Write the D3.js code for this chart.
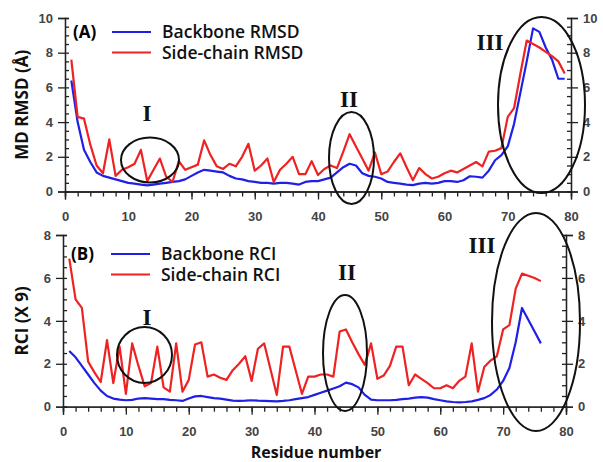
<!DOCTYPE html>
<html>
<head>
<meta charset="utf-8">
<script src="https://cdn.jsdelivr.net/npm/d3@7"></script>
<style>
  body { margin: 0; background: #fff; }
  svg { font-family: "Open Sans", sans-serif; }
  .tick text { fill: #444; font-weight: 600; }
</style>
</head>
<body>
<div id="chart"></div>
<script>
// residue numbers
var resA = d3.range(1, 80);
var resB = d3.range(1, 77);

// (A) MD RMSD values, residues 1-79
var backboneRMSD = [6.4, 4.0, 2.4, 1.7, 1.1, 0.9, 0.8, 0.7, 0.6, 0.5,
  0.45, 0.4, 0.35, 0.4, 0.45, 0.5, 0.55, 0.6, 0.7, 0.9,
  1.1, 1.25, 1.2, 1.15, 1.1, 0.9, 0.75, 0.7, 0.6, 0.55,
  0.5, 0.5, 0.45, 0.5, 0.5, 0.45, 0.4, 0.55, 0.6, 0.6,
  0.7, 0.8, 1.1, 1.4, 1.6, 1.5, 1.05, 0.9, 0.85, 0.75,
  0.55, 0.5, 0.45, 0.4, 0.37, 0.45, 0.5, 0.45, 0.5, 0.6,
  0.6, 0.55, 0.65, 0.88, 0.85, 0.8, 1.2, 1.8, 2.1, 2.6,
  3.9, 5.7, 7.5, 9.4, 9.2, 8.3, 7.6, 6.5, 6.5];
var sidechainRMSD = [7.6, 4.3, 4.2, 2.7, 1.5, 1.05, 3.0, 0.9, 1.25, 1.4,
  1.6, 2.4, 0.6, 1.25, 1.9, 0.85, 0.55, 1.75, 1.25, 1.4,
  1.55, 2.95, 2.1, 1.45, 1.3, 1.6, 1.45, 2.0, 2.75, 1.2,
  1.5, 1.9, 0.55, 1.25, 1.6, 2.0, 1.0, 1.0, 1.75, 0.95,
  1.3, 1.5, 1.35, 2.3, 3.3, 2.6, 1.9, 1.2, 2.25, 1.0,
  1.15, 1.7, 2.2, 1.4, 0.65, 1.35, 1.0, 0.75, 0.85, 1.05,
  1.2, 1.1, 1.3, 1.5, 1.7, 1.45, 2.3, 2.35, 2.5, 4.3,
  4.8, 6.8, 8.7, 8.5, 8.3, 8.05, 7.8, 7.5, 6.8];

// (B) RCI x 9 values, residues 1-76
var backboneRCI = [2.6, 2.3, 1.9, 1.5, 1.1, 0.75, 0.5, 0.38, 0.33, 0.3,
  0.32, 0.38, 0.4, 0.38, 0.35, 0.35, 0.32, 0.3, 0.27, 0.38,
  0.48, 0.5, 0.45, 0.4, 0.38, 0.33, 0.28, 0.27, 0.28, 0.3,
  0.28, 0.27, 0.26, 0.25, 0.27, 0.3, 0.35, 0.4, 0.45, 0.55,
  0.65, 0.75, 0.85, 0.95, 1.12, 1.05, 0.9, 0.55, 0.33, 0.3,
  0.3, 0.3, 0.32, 0.35, 0.38, 0.42, 0.45, 0.42, 0.35, 0.3,
  0.25, 0.22, 0.2, 0.22, 0.25, 0.32, 0.4, 0.55, 0.8, 1.2,
  1.8, 3.0, 4.6, 4.05, 3.5, 2.95];
var sidechainRCI = [6.9, 5.0, 4.6, 2.1, 1.6, 1.15, 3.1, 1.1, 2.8, 0.6,
  2.95, 1.9, 0.95, 1.1, 2.8, 0.9, 0.7, 2.95, 0.7, 1.25,
  2.9, 3.0, 1.4, 1.5, 1.35, 1.25, 1.7, 2.0, 2.35, 1.2,
  2.7, 2.95, 1.75, 0.55, 2.8, 2.8, 1.7, 0.6, 1.4, 1.4,
  1.5, 1.5, 1.4, 3.5, 3.6, 3.0, 2.45, 1.95, 2.95, 1.3,
  1.45, 1.9, 2.8, 2.8, 1.0, 1.5, 1.3, 1.1, 0.86, 0.86,
  1.0, 0.86, 1.2, 1.4, 2.95, 0.7, 1.85, 2.15, 2.35, 3.6,
  3.8, 5.5, 6.2, 6.1, 6.0, 5.85];

var xTicks = [0, 10, 20, 30, 40, 50, 60, 70, 80];
var yTicksA = [0, 2, 4, 6, 8, 10];
var yTicksB = [0, 2, 4, 6, 8];

var BLUE = "#1f1fe6", RED = "#ee2222";

var svg = d3.select("#chart").append("svg")
  .attr("width", 603).attr("height", 462);

function panel(opt) {
  var x = d3.scaleLinear().domain([0, 80]).range([opt.x0, opt.x1]);
  var y = d3.scaleLinear().domain([0, opt.ymax]).range([opt.y0, opt.y1]);
  var g = svg.append("g");

  // x axis: majors + minors
  g.append("g").attr("transform", "translate(0," + opt.y0 + ")")
    .call(d3.axisBottom(x).tickValues(d3.range(0, 81, 2)).tickSize(5).tickFormat(""));
  g.append("g").attr("transform", "translate(0," + opt.y0 + ")")
    .call(d3.axisBottom(x).tickValues(xTicks).tickSize(8).tickPadding(12))
    .selectAll("text").style("font-size", "13px");

  // left axis
  g.append("g").attr("transform", "translate(" + opt.x0 + ",0)")
    .call(d3.axisLeft(y).tickValues(d3.range(0, opt.ymax + 0.01, 0.5)).tickSize(-4).tickFormat(""));
  g.append("g").attr("transform", "translate(" + opt.x0 + ",0)")
    .call(d3.axisLeft(y).tickValues(opt.yticks).tickSize(7).tickPadding(5))
    .selectAll("text").style("font-size", "13px");

  // right axis
  g.append("g").attr("transform", "translate(" + opt.x1 + ",0)")
    .call(d3.axisRight(y).tickValues(d3.range(0, opt.ymax + 0.01, 0.5)).tickSize(-4).tickFormat(""));
  g.append("g").attr("transform", "translate(" + opt.x1 + ",0)")
    .call(d3.axisRight(y).tickValues(opt.yticks).tickSize(7).tickPadding(5))
    .selectAll("text").style("font-size", "13px");

  g.selectAll(".domain").attr("stroke", "#222").attr("stroke-width", 1.3);
  g.selectAll(".tick line").attr("stroke", "#222").attr("stroke-width", 1.3);

  var line = d3.line()
    .x(function(d) { return x(d[0]); })
    .y(function(d) { return y(d[1]); });

  g.append("path")
    .datum(d3.zip(opt.res, opt.blue))
    .attr("fill", "none").attr("stroke", BLUE).attr("stroke-width", 2.2)
    .attr("stroke-linejoin", "round")
    .attr("d", line);
  g.append("path")
    .datum(d3.zip(opt.res, opt.red))
    .attr("fill", "none").attr("stroke", RED).attr("stroke-width", 2.2)
    .attr("stroke-linejoin", "round")
    .attr("d", line);

  // panel tag and legend
  g.append("text").attr("x", opt.x0 + 8).attr("y", opt.legY + 6)
    .style("font-size", "17px").style("font-weight", 700).text(opt.tag);
  [[opt.blueLabel, BLUE], [opt.redLabel, RED]].forEach(function(l, i) {
    var ly = opt.legY + i * 20.5;
    g.append("line").attr("x1", opt.legX).attr("x2", opt.legX + 39)
      .attr("y1", ly).attr("y2", ly)
      .attr("stroke", l[1]).attr("stroke-width", 2.2);
    g.append("text").attr("x", opt.legX + 50).attr("y", ly + 6)
      .style("font-size", "17.5px").style("font-weight", 600).attr("fill", "#111")
      .text(l[0]);
  });

  // y label
  g.append("text")
    .attr("transform", "translate(" + 28 + "," + ((opt.y0 + opt.y1) / 2) + ") rotate(-90)")
    .attr("text-anchor", "middle")
    .style("font-size", "17px").style("font-weight", 700).attr("fill", "#111")
    .text(opt.ylabel);

  // circled regions
  opt.marks.forEach(function(m) {
    g.append("ellipse").attr("cx", m.cx).attr("cy", m.cy).attr("rx", m.rx).attr("ry", m.ry)
      .attr("fill", "none").attr("stroke", "#111").attr("stroke-width", 2);
    g.append("text").attr("x", m.tx).attr("y", m.ty)
      .attr("text-anchor", "middle").attr("dy", "0.35em")
      .style("font-family", "'Liberation Serif', 'DejaVu Serif', serif")
      .style("font-size", "23px").style("font-weight", 700).attr("fill", "#111")
      .text(m.label);
  });
}

panel({
  x0: 65, x1: 571, y0: 191.5, y1: 18, ymax: 10, yticks: yTicksA,
  res: resA, blue: backboneRMSD, red: sidechainRMSD,
  tag: "(A)", legX: 112, legY: 32,
  blueLabel: "Backbone RMSD", redLabel: "Side-chain RMSD",
  ylabel: "MD RMSD (Å)",
  marks: [
    { cx: 150, cy: 160, rx: 29, ry: 22.5, tx: 147, ty: 113, label: "I" },
    { cx: 351.5, cy: 158, rx: 22.5, ry: 46, tx: 349, ty: 99, label: "II" },
    { cx: 541.5, cy: 105, rx: 43.5, ry: 88, tx: 490, ty: 42, label: "III" }
  ]
});

panel({
  x0: 63, x1: 566, y0: 406.7, y1: 235, ymax: 8, yticks: yTicksB,
  res: resB, blue: backboneRCI, red: sidechainRCI,
  tag: "(B)", legX: 111, legY: 254,
  blueLabel: "Backbone RCI", redLabel: "Side-chain RCI",
  ylabel: "RCI (X 9)",
  marks: [
    { cx: 144.5, cy: 355, rx: 27.5, ry: 28, tx: 147, ty: 317, label: "I" },
    { cx: 345, cy: 353, rx: 22, ry: 58, tx: 347, ty: 272, label: "II" },
    { cx: 536, cy: 322, rx: 44, ry: 109, tx: 482, ty: 245, label: "III" }
  ]
});

svg.append("text").attr("x", 316).attr("y", 458)
  .attr("text-anchor", "middle")
  .style("font-size", "16px").style("font-weight", 700).attr("fill", "#111")
  .text("Residue number");
</script>
</body>
</html>
